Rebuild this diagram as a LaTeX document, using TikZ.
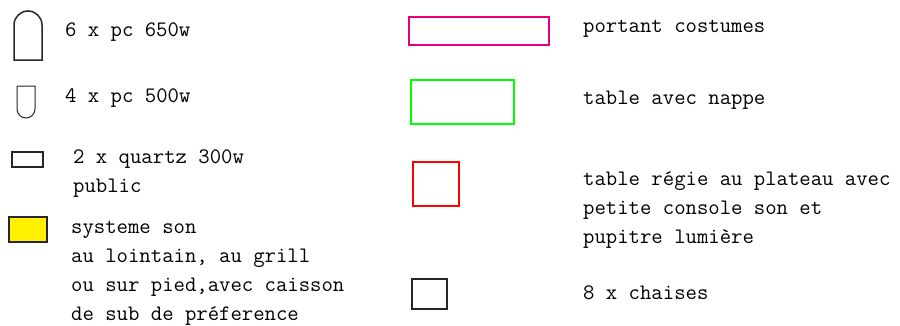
\documentclass[tikz,border=0pt]{standalone}
\usepackage{fontspec}
\definecolor{magentaline}{HTML}{E6007E}
\definecolor{greenline}{HTML}{00FF00}
\definecolor{redline}{HTML}{FF0000}
\definecolor{yellowfill}{HTML}{FFF000}
\tikzset{
  legtext/.style={anchor=base west, inner sep=0pt, align=left, font=\ttfamily\fontsize{22.1}{29}\selectfont, text=black},
  blackshape/.style={draw=black!85, line width=1.5pt},
  colshape/.style={line width=2pt}
}
\begin{document}
\begin{tikzpicture}[x=1pt,y=1pt]
\useasboundingbox (0,0) rectangle (900,325);
% left column
\draw[blackshape] (14,265) -- (14,300) arc (180:0:14) -- (42,265) -- cycle;
\node[legtext] (t1) at (65,289) {6 x pc 650w};
\draw[blackshape, line width=1pt] (17,239) -- (17,216) arc (180:360:9) -- (35,239) -- cycle;
\node[legtext] (t2) at (65,223) {4 x pc 500w};
\draw[blackshape] (12,158) rectangle (43,173);
\node[legtext] (t3) at (73,133) {2 x quartz 300w\\public};
\draw[blackshape, fill=yellowfill] (9,83) rectangle (47,108);
\node[legtext] (t4) at (71,5) {systeme son\\au lointain, au grill\\ou sur pied,avec caisson\\de sub de préference};
% right column
\draw[colshape, draw=magentaline] (409,280) rectangle (549,308);
\node[legtext] (t5) at (583,293) {portant costumes};
\draw[colshape, draw=greenline] (411,201) rectangle (514,245);
\node[legtext] (t6) at (583,221) {table avec nappe};
\draw[colshape, draw=redline] (413,119) rectangle (459,163);
\node[legtext] (t7) at (583,82) {table régie au plateau avec\\petite console son et\\pupitre lumière};
\draw[blackshape, line width=2pt] (412,16) rectangle (447,46);
\node[legtext] (t8) at (583,26) {8 x chaises};
\end{tikzpicture}
\end{document}
